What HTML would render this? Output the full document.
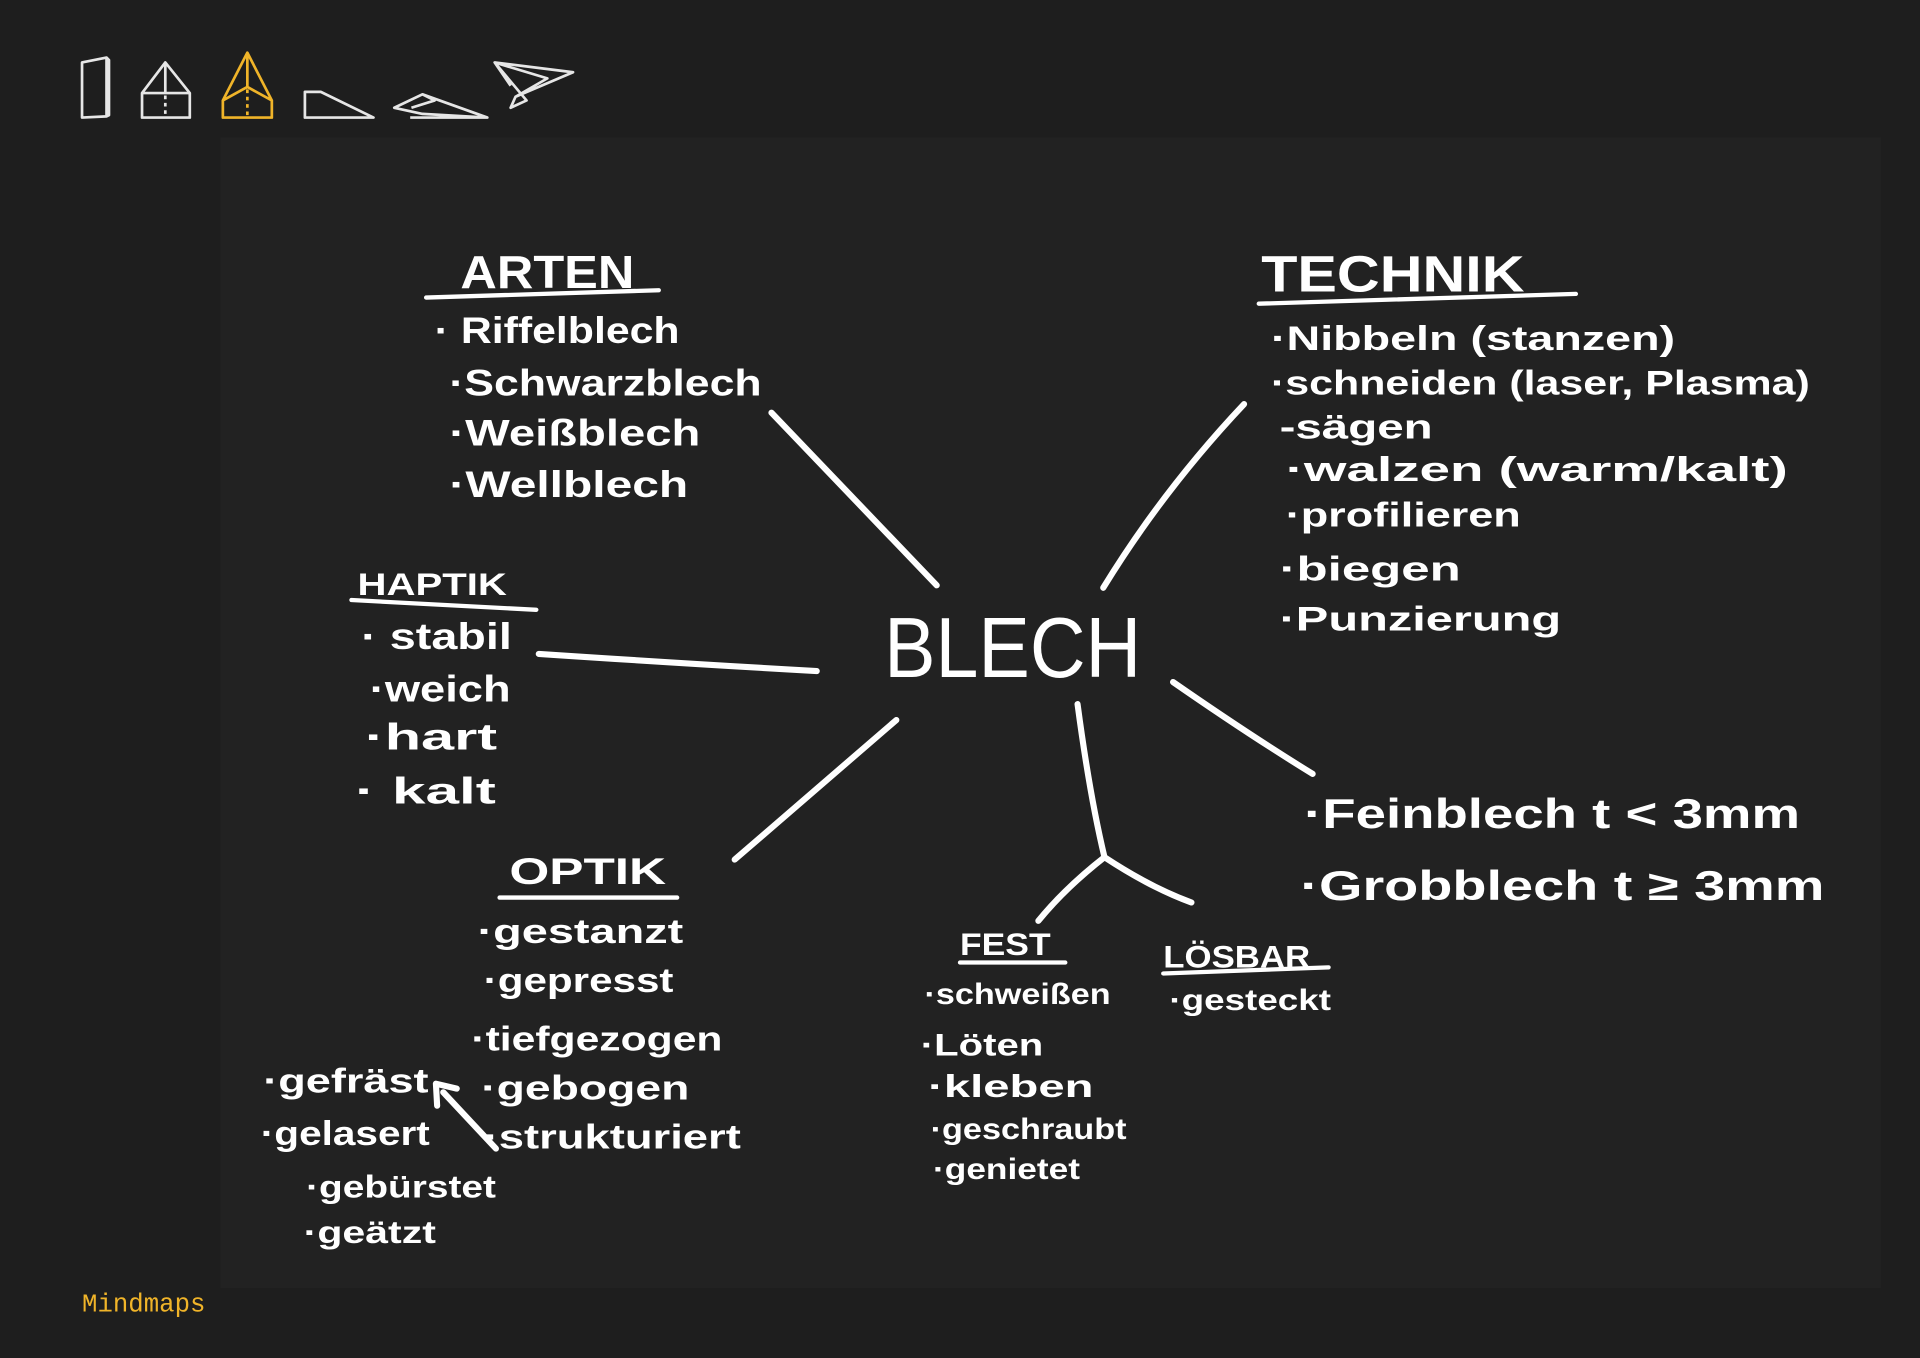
<!DOCTYPE html>
<html><head><meta charset="utf-8"><style>
html,body{margin:0;padding:0;background:#1e1e1e;}
svg{display:block}
.t{font-family:"Liberation Sans",sans-serif;font-weight:bold;fill:#fff;}
</style></head><body>
<svg width="1920" height="1358" viewBox="0 0 1568 1109" xmlns="http://www.w3.org/2000/svg">
<rect width="1568" height="1109" fill="#1e1e1e"/>
<rect x="180" y="112" width="1356" height="940" fill="#222"/>
<g fill="none" stroke="#e6e6e6" stroke-width="2.2" stroke-linejoin="round">
<path d="M67 51 L87 47 L87 95 L67 96 Z M87 47 L89 49 L89 94 L87 95"/>
<path d="M116 76 L135 51 L155 76 L155 96 L116 96 Z M116 76 L155 76 M135 51 L135 76"/>
<path d="M135 78 L135 96" stroke-dasharray="3 3"/>
<path d="M249 91 L249 75 L262 75 L305 96 L249 96 Z"/>
<path d="M322 88 L345 93 L398 96 L345 77 Z M345 77 L355 82 L336 88 M335 96 L398 96"/>
<path d="M404 51 L468 59 L421 79 L417 88 L430 82 Z M404 51 L447 64 L421 79 M404 51 L417 70"/>
</g>
<g fill="none" stroke="#f0b429" stroke-width="2.2" stroke-linejoin="round">
<path d="M182 82 L202 43 L222 82 L222 96 L182 96 Z M202 43 L202 71 M182 82 L202 71 L222 82"/>
<path d="M202 73 L202 96" stroke-dasharray="3 3"/>
</g>
<g fill="none" stroke="#fff" stroke-width="5" stroke-linecap="round">
<path d="M630 337 Q700 410 765 478"/>
<path d="M1016 330 Q950 400 901 480"/>
<path d="M440 534 Q560 542 667 548"/>
<path d="M732 588 Q660 650 600 702"/>
<path d="M958 557 Q1020 600 1072 632"/>
<path d="M880 575 Q890 650 902 700 M902 700 Q870 725 848 752 M902 700 Q940 725 973 737"/>
<path d="M405 938 L362 892 M356 885 L357 903 M356 885 L373 889"/>
</g>
<g fill="none" stroke="#fff" stroke-width="3.5" stroke-linecap="round">
<path d="M348 243 L538 237"/>
<path d="M1028 248 L1287 240"/>
<path d="M287 490 L438 498"/>
<path d="M408 733 L553 733"/>
<path d="M784 786 L870 786"/>
<path d="M950 795 L1085 790"/>
</g>
<text class="t" x="722" y="553" font-size="70" style="font-weight:normal" textLength="210" lengthAdjust="spacingAndGlyphs">BLECH</text>
<g class="t">
<text x="376" y="235" font-size="38" textLength="142" lengthAdjust="spacingAndGlyphs">ARTEN</text>
<text x="1030" y="238" font-size="42" textLength="215" lengthAdjust="spacingAndGlyphs">TECHNIK</text>
<text x="292" y="486" font-size="26" textLength="122" lengthAdjust="spacingAndGlyphs">HAPTIK</text>
<text x="416" y="722" font-size="30" textLength="128" lengthAdjust="spacingAndGlyphs">OPTIK</text>
<text x="784" y="780" font-size="26" textLength="74" lengthAdjust="spacingAndGlyphs">FEST</text>
<text x="950" y="790" font-size="26" textLength="120" lengthAdjust="spacingAndGlyphs">LÖSBAR</text>
</g>
<g class="t" font-size="30">
<text x="355" y="280" textLength="200" lengthAdjust="spacingAndGlyphs">· Riffelblech</text>
<text x="367" y="323" textLength="255" lengthAdjust="spacingAndGlyphs">·Schwarzblech</text>
<text x="367" y="364" textLength="205" lengthAdjust="spacingAndGlyphs">·Weißblech</text>
<text x="367" y="406" textLength="195" lengthAdjust="spacingAndGlyphs">·Wellblech</text>
<text x="295" y="530" textLength="123" lengthAdjust="spacingAndGlyphs">· stabil</text>
<text x="302" y="573" textLength="115" lengthAdjust="spacingAndGlyphs">·weich</text>
<text x="298" y="612" textLength="108" lengthAdjust="spacingAndGlyphs">·hart</text>
<text x="290" y="656" textLength="115" lengthAdjust="spacingAndGlyphs">· kalt</text>
<text x="390" y="770" font-size="28" textLength="168" lengthAdjust="spacingAndGlyphs">·gestanzt</text>
<text x="395" y="810" font-size="28" textLength="155" lengthAdjust="spacingAndGlyphs">·gepresst</text>
<text x="385" y="858" font-size="28" textLength="205" lengthAdjust="spacingAndGlyphs">·tiefgezogen</text>
<text x="393" y="898" font-size="28" textLength="170" lengthAdjust="spacingAndGlyphs">·gebogen</text>
<text x="395" y="938" font-size="28" textLength="210" lengthAdjust="spacingAndGlyphs">·strukturiert</text>
<text x="215" y="892" font-size="28" textLength="135" lengthAdjust="spacingAndGlyphs">·gefräst</text>
<text x="213" y="935" font-size="28" textLength="138" lengthAdjust="spacingAndGlyphs">·gelasert</text>
<text x="250" y="978" font-size="26" textLength="155" lengthAdjust="spacingAndGlyphs">·gebürstet</text>
<text x="248" y="1015" font-size="26" textLength="108" lengthAdjust="spacingAndGlyphs">·geätzt</text>
<text x="755" y="820" font-size="24" textLength="152" lengthAdjust="spacingAndGlyphs">·schweißen</text>
<text x="752" y="862" font-size="26" textLength="100" lengthAdjust="spacingAndGlyphs">·Löten</text>
<text x="758" y="896" font-size="26" textLength="135" lengthAdjust="spacingAndGlyphs">·kleben</text>
<text x="760" y="930" font-size="24" textLength="160" lengthAdjust="spacingAndGlyphs">·geschraubt</text>
<text x="762" y="963" font-size="24" textLength="120" lengthAdjust="spacingAndGlyphs">·genietet</text>
<text x="955" y="825" font-size="24" textLength="132" lengthAdjust="spacingAndGlyphs">·gesteckt</text>
<text x="1038" y="286" font-size="28" textLength="330" lengthAdjust="spacingAndGlyphs">·Nibbeln (stanzen)</text>
<text x="1038" y="322" font-size="28" textLength="440" lengthAdjust="spacingAndGlyphs">·schneiden (laser, Plasma)</text>
<text x="1045" y="358" font-size="28" textLength="125" lengthAdjust="spacingAndGlyphs">-sägen</text>
<text x="1050" y="393" font-size="28" textLength="410" lengthAdjust="spacingAndGlyphs">·walzen     (warm/kalt)</text>
<text x="1050" y="430" font-size="28" textLength="192" lengthAdjust="spacingAndGlyphs">·profilieren</text>
<text x="1045" y="474" font-size="28" textLength="148" lengthAdjust="spacingAndGlyphs">·biegen</text>
<text x="1045" y="515" font-size="28" textLength="230" lengthAdjust="spacingAndGlyphs">·Punzierung</text>
<text x="1065" y="676" font-size="34" textLength="405" lengthAdjust="spacingAndGlyphs">·Feinblech    t &lt; 3mm</text>
<text x="1062" y="735" font-size="34" textLength="428" lengthAdjust="spacingAndGlyphs">·Grobblech    t ≥ 3mm</text>
</g>
<text x="67" y="1071" font-family="Liberation Mono,monospace" font-size="21" fill="#f0b429">Mindmaps</text>
</svg>
</body></html>
